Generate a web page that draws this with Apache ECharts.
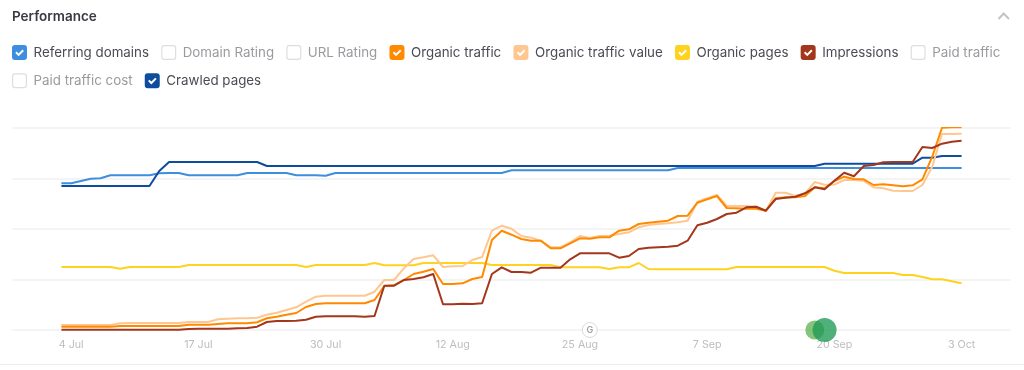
<!DOCTYPE html>
<html><head><meta charset="utf-8">
<style>html,body{margin:0;padding:0;background:#fff}#c{width:1024px;height:370px}</style>
<script src="https://cdn.jsdelivr.net/npm/echarts@6/dist/echarts.min.js"></script>
</head><body><div id="c"></div>
<script>
const dates = [
'3 Jul','4 Jul','5 Jul','6 Jul','7 Jul','8 Jul','9 Jul','10 Jul','11 Jul','12 Jul',
'13 Jul','14 Jul','15 Jul','16 Jul','17 Jul','18 Jul','19 Jul','20 Jul','21 Jul','22 Jul',
'23 Jul','24 Jul','25 Jul','26 Jul','27 Jul','28 Jul','29 Jul','30 Jul','31 Jul','1 Aug',
'2 Aug','3 Aug','4 Aug','5 Aug','6 Aug','7 Aug','8 Aug','9 Aug','10 Aug','11 Aug',
'12 Aug','13 Aug','14 Aug','15 Aug','16 Aug','17 Aug','18 Aug','19 Aug','20 Aug','21 Aug',
'22 Aug','23 Aug','24 Aug','25 Aug','26 Aug','27 Aug','28 Aug','29 Aug','30 Aug','31 Aug',
'1 Sep','2 Sep','3 Sep','4 Sep','5 Sep','6 Sep','7 Sep','8 Sep','9 Sep','10 Sep',
'11 Sep','12 Sep','13 Sep','14 Sep','15 Sep','16 Sep','17 Sep','18 Sep','19 Sep','20 Sep',
'21 Sep','22 Sep','23 Sep','24 Sep','25 Sep','26 Sep','27 Sep','28 Sep','29 Sep','30 Sep',
'1 Oct','2 Oct','3 Oct'];
const tickLabels = ['4 Jul','17 Jul','30 Jul','12 Aug','25 Aug','7 Sep','20 Sep','3 Oct'];
const referringDomains = [
146.7,146.7,149,151.3,151.7,154.7,154.7,154.7,154.7,154.7,
156.7,157,157,154.7,154.7,154.7,154.7,154.7,154.7,157,
157,157,157,157,154.7,154.7,154.7,154.3,157,157,
157,157,157,157,157,157,157,157,157,157,
157,157,157,157,157,157,159.7,159.7,159.7,159.7,
159.7,159.7,159.7,159.7,159.7,159.7,159.7,159.7,159.7,159.7,
159.7,159.7,159.7,162,162,162,162,162,162,162,
162,162,162,162,162,162,162,162,162,162,
162,162,162,162,162,162,162,162,162,162,
162,162,162];
const crawledPages = [
144,144,144,144,144,144,144,144,144,144,
159,168,168,168,168,168,168,168,168,168,
168,164,164,164,164,164,164,164,164,164,
164,164,164,164,164,164,164,164,164,164,
164,164,164,164,164,164,164,164,164,164,
164,164,164,164,164,164,164,164,164,164,
164,164,164,164,164,164,164,164,164,164,
164,164,164,164,164,164,164,164,166.3,166.3,
166.3,166.3,166.3,166.3,166.3,166.3,166.3,166.3,172.3,172.3,
174,174,174];
const organicTraffic = [
3.3,3.3,3.3,3.3,3.3,3.3,4,4,4,4,
4,4,4,5.3,5.3,5.3,6,6.7,6.7,6.7,
7.7,11.7,13.3,15.3,17,23,26,26.7,26.7,26.7,
26.7,26.7,30,44,44.7,50,56,58.3,61,46,
46,46.7,51,53,90,99.3,95.3,91,89.3,89.3,
81.7,81.7,86.7,91.7,91.3,92.7,92.7,99.3,100.7,106,
107.3,108.3,109.3,114,114.3,127.3,130.7,134,122,121.7,
121.3,121.3,119.3,131.7,132.7,132.7,134,142.7,141.7,149,
153.3,151,150.7,145,145.7,144.7,143.7,144.7,150.7,173.3,
202.3,202.7,202.7];
const organicValue = [
5,5,5,5,5,5,6.7,7,7,7,
7,7,7,8,8,8,10.7,11.3,11.7,11.7,
12.3,15.3,17.3,20,22.7,28.3,33.3,34.3,34.3,34.3,
34.3,34.3,38.3,50,50,61.7,71,72.7,74.7,63,
63.7,64,70,73,99.3,104.3,101.3,94,92.3,89.3,
82.7,82.7,87.7,94,92,94,94.3,96,97.7,102.7,
105,106,106.7,107.7,109.3,128.3,131.7,135,124,124,
124,123.3,119.3,137.3,137.3,134,136.7,148,145.3,145.3,
150,150,149.3,142.7,141.7,139.3,139,139,145,163.3,
196,196,196.3];
const organicPages = [
63,63,63,63,63,63,61.3,63,63,63,
63,63,63,65,65,65,65,65,65,65,
65,65,65,65,65,63,65,65,65,65,
65,65,67,64.7,64.7,64.7,64.7,67,67,67,
67,67,67,67,65,65,65,65,65,65,
65,62.7,62.7,62.7,62.7,62.7,61,62.7,62.7,67,
61,60.7,60.7,60.7,60.7,60.7,60.7,60.7,60.7,63,
63,63,63,63,63,63,63,63,63,59.3,
57,57,57,57,57,57,55,55,53,50.7,
50.7,48.7,46.7];
const impressions = [
0.3,0.3,0.3,0.3,0.3,0.3,0.3,0.3,0.3,0.3,
0.3,0.3,0.3,1,1.3,1.3,1.3,1.3,1.7,2,
3.3,8,9,9,9.3,10.3,13.3,13.7,13.7,13.7,
13.7,13.3,14,44.3,44.3,50,51,52.7,56,25.7,
25.7,26.3,26,26.7,56,62.7,58,58,57.3,62.3,
62.3,62.3,70.7,76.7,76.7,76.7,76.7,72.3,74,81,
82.3,82.7,83.3,84.3,89.3,104.7,107.3,111,116,117.3,
122.7,123.3,119.3,131,132.3,133.3,136.7,142.7,140.7,149.3,
157.3,153.7,164,165,167.7,168,168,168,183,182,
186.3,188.3,189.3];
const seriesNames = ['Referring domains','Domain Rating','URL Rating','Organic traffic','Organic traffic value','Organic pages','Impressions','Paid traffic','Paid traffic cost','Crawled pages'];
const googleUpdateDate = '26 Aug';
const greenEventDates = ['18 Sep','19 Sep'];

const PAD = 5;
const blanks = Array.from({length: PAD}, () => '');
const categories = blanks.concat(dates, blanks);
const nulls = Array.from({length: PAD}, () => null);
const padded = a => nulls.concat(a, nulls);

const box = 'M3 0H12A3 3 0 0 1 15 3V12A3 3 0 0 1 12 15H3A3 3 0 0 1 0 12V3A3 3 0 0 1 3 0Z';
const iconOn = 'path://' + box + 'M6.6 11.2L11.9 5.9L10.5 4.5L6.6 8.4L4.7 6.5L3.3 7.9Z';
const iconOff = 'path://' + box + 'M3 1.2A1.8 1.8 0 0 0 1.2 3V12A1.8 1.8 0 0 0 3 13.8H12A1.8 1.8 0 0 0 13.8 12V3A1.8 1.8 0 0 0 12 1.2Z';

const colors = {
 'Referring domains':'#3d8ede','Organic traffic':'#ff8a00','Organic traffic value':'#ffc78f',
 'Organic pages':'#ffd21f','Impressions':'#a3371c','Crawled pages':'#0e4c9e'
};
const seriesData = {
 'Referring domains':referringDomains,'Organic traffic':organicTraffic,'Organic traffic value':organicValue,
 'Organic pages':organicPages,'Impressions':impressions,'Crawled pages':crawledPages
};
const drawOrder = ['Domain Rating','URL Rating','Paid traffic','Paid traffic cost','Organic pages','Referring domains','Crawled pages','Organic traffic value','Organic traffic','Impressions'];

const lineSeries = drawOrder.map(name => ({
  name, type:'line', showSymbol:false, symbol:'none', silent:true,
  data: seriesData[name] ? padded(seriesData[name]) : [],
  itemStyle:{color: colors[name] || '#dedede'},
  lineStyle:{color: colors[name] || '#dedede', width:2, join:'round'},
  connectNulls:false, animation:false, z:3
}));

const chart = echarts.init(document.getElementById('c'), null, {renderer:'canvas'});
chart.setOption({
  animation:false,
  backgroundColor:'#fff',
  textStyle:{fontFamily:'Inter'},
  title:{text:'Performance', left:12, top:10, padding:0, textStyle:{fontFamily:'Inter',fontSize:13.5,fontWeight:600,color:'#3a3a42'}},
  legend:{
    left:12, top:44.5, width:1000, itemWidth:15, itemHeight:15, itemGap:12.2, selectedMode:false,
    align:'left', padding:0,
    data: seriesNames.map(name => ({
      name, icon: colors[name] ? iconOn : iconOff,
      textStyle:{fontFamily:'Inter',fontSize:13.35,lineHeight:16,color: colors[name] ? '#4b4b55' : '#9a9a9f', padding:[0,0,0,1.5]}
    }))
  },
  grid:{left:12.5, width:998, top:128, height:202, containLabel:false},
  xAxis:{
    type:'category', boundaryGap:false, data:categories,
    axisLine:{show:false}, axisTick:{show:false}, splitLine:{show:false},
    axisLabel:{fontFamily:'Inter',fontSize:10.7,color:'#bdbdc0',margin:9,hideOverlap:false,
      interval:(i,v)=>tickLabels.includes(v)}
  },
  yAxis:{
    type:'value', min:0, max:202, interval:50.5,
    axisLine:{show:false}, axisTick:{show:false}, axisLabel:{show:false},
    splitLine:{lineStyle:{color:'#f1f1f1',width:1.5}}
  },
  series: lineSeries.concat([
    {name:'Google update', type:'scatter', clip:false, silent:true, z:4, symbol:'circle', symbolSize:15,
     itemStyle:{color:'#fff',borderColor:'#cfcfcf',borderWidth:1},
     label:{show:true,position:'inside',formatter:'G',fontFamily:'Inter',fontSize:9,fontWeight:600,color:'#8a8a8a'},
     data:[[dates.indexOf(googleUpdateDate)+PAD,0]]},
    {name:'Event small', type:'scatter', clip:false, silent:true, z:5, symbol:'circle', symbolSize:19,
     itemStyle:{color:'#5cb04f',opacity:0.75},
     data:[[dates.indexOf(greenEventDates[0])+PAD,0]]},
    {name:'Event large', type:'scatter', clip:false, silent:true, z:6, symbol:'circle', symbolSize:24,
     itemStyle:{color:'#1f9a56',opacity:0.78},
     data:[[dates.indexOf(greenEventDates[1])+PAD,0]]}
  ]),
  graphic:[
    {type:'polyline',silent:true,shape:{points:[[998.5,19],[1003.7,13.5],[1009,19]]},style:{stroke:'#c4c4c8',lineWidth:2,fill:null}},
    {type:'line',silent:true,shape:{x1:0,y1:364.5,x2:1024,y2:364.5},style:{stroke:'#ececec',lineWidth:1}}
  ]
});
</script></body></html>
